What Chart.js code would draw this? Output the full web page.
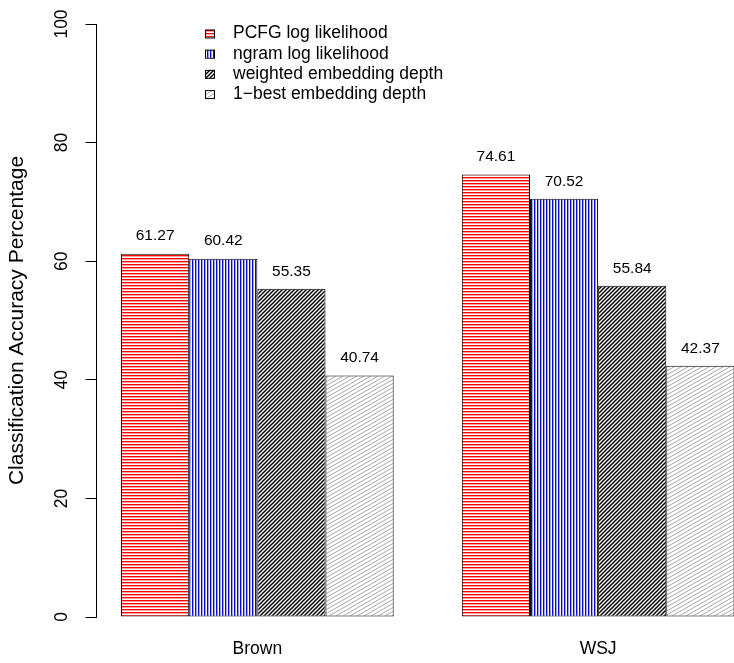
<!DOCTYPE html>
<html>
<head>
<meta charset="utf-8">
<script src="https://cdn.jsdelivr.net/npm/chart.js@4.4.1/dist/chart.umd.min.js"></script>
<style>
  html, body { margin: 0; padding: 0; background: #fff; overflow: hidden; }
  canvas { display: block; }
</style>
</head>
<body>
<canvas id="accChart" width="780" height="663"></canvas>
<script>
var categories = ['Brown', 'WSJ'];
var seriesNames = ['PCFG log likelihood', 'ngram log likelihood', 'weighted embedding depth', '1\u2212best embedding depth'];
var pcfgScores = [61.27, 74.61];
var ngramScores = [60.42, 70.52];
var weightedDepth = [55.35, 55.84];
var oneBestDepth = [40.74, 42.37];
var yTicks = [0, 20, 40, 60, 80, 100];

var FONT = "'Liberation Sans', Arial, Helvetica, sans-serif";

// barplot-style positions: each group of 4 bars has one bar width of space before it
var groupCenters = categories.map(function (c, i) { return 3 + i * 5; });

function hatch(w, h, draw) {
    var c = document.createElement('canvas');
    c.width = w;
    c.height = h;
    var g = c.getContext('2d');
    g.fillStyle = '#fff';
    g.fillRect(0, 0, w, h);
    draw(g, w, h);
    return document.getElementById('accChart').getContext('2d').createPattern(c, 'repeat');
}

function diagonal(color, width) {
    return function (g, w, h) {
        g.strokeStyle = color;
        g.lineWidth = width;
        [-h, 0, h].forEach(function (dy) {
            g.beginPath();
            g.moveTo(-w, 2 * h + dy);
            g.lineTo(2 * w, -h + dy);
            g.stroke();
        });
    };
}

var redLines = hatch(1, 3, function (g) {
    g.fillStyle = '#ff0000'; g.fillRect(0, 0, 1, 1);
    g.fillStyle = '#ffa0a0'; g.fillRect(0, 1, 1, 1);
});
var blueLines = hatch(3, 1, function (g) {
    g.fillStyle = '#0000ff'; g.fillRect(0, 0, 1, 1);
    g.fillStyle = '#a0a0ff'; g.fillRect(1, 0, 1, 1);
});
var blackHatch = hatch(4, 4, diagonal('#000', 1.5));
var greyHatch = hatch(7, 4, diagonal('#a8a8a8', 1));

function points(values) {
    return values.map(function (v, i) { return { x: groupCenters[i], y: v }; });
}

var valueLabels = {
    id: 'valueLabels',
    afterDatasetsDraw: function (chart) {
        var ctx = chart.ctx;
        ctx.save();
        ctx.font = '15.5px ' + FONT;
        ctx.fillStyle = '#000';
        ctx.textAlign = 'center';
        ctx.textBaseline = 'middle';
        chart.data.datasets.forEach(function (ds, di) {
            chart.getDatasetMeta(di).data.forEach(function (bar, i) {
                ctx.fillText(ds.data[i].y.toFixed(2), bar.x, bar.y - 17.5);
            });
        });
        ctx.restore();
    }
};

var rotatedYTicks = {
    id: 'rotatedYTicks',
    afterDraw: function (chart) {
        var ctx = chart.ctx;
        var y = chart.scales.y;
        ctx.save();
        ctx.font = '17.5px ' + FONT;
        ctx.fillStyle = '#000';
        ctx.textAlign = 'center';
        ctx.textBaseline = 'middle';
        y.ticks.forEach(function (t) {
            ctx.save();
            ctx.translate(62, y.getPixelForValue(t.value));
            ctx.rotate(-Math.PI / 2);
            ctx.fillText(String(t.value), 0, 0);
            ctx.restore();
        });
        ctx.restore();
    }
};

var boxLegend = {
    id: 'boxLegend',
    afterDraw: function (chart) {
        var ctx = chart.ctx;
        ctx.save();
        ctx.font = '17.5px ' + FONT;
        ctx.textBaseline = 'middle';
        chart.data.datasets.forEach(function (ds, i) {
            var cy = 33.5 + i * 20.2;
            ctx.fillStyle = ds.backgroundColor;
            ctx.fillRect(205, cy - 4, 10, 8);
            ctx.strokeStyle = '#000';
            ctx.lineWidth = 1;
            ctx.strokeRect(205.5, cy - 3.5, 9, 8);
            ctx.fillStyle = '#000';
            ctx.fillText(ds.label, 233, cy);
        });
        ctx.restore();
    }
};

var ctx = document.getElementById('accChart').getContext('2d');
var accChart = new Chart(ctx, {
    type: 'bar',
    data: {
        datasets: [
            { label: seriesNames[0], data: points(pcfgScores), backgroundColor: redLines },
            { label: seriesNames[1], data: points(ngramScores), backgroundColor: blueLines },
            { label: seriesNames[2], data: points(weightedDepth), backgroundColor: blackHatch },
            { label: seriesNames[3], data: points(oneBestDepth), backgroundColor: greyHatch }
        ]
    },
    options: {
        responsive: false,
        animation: false,
        devicePixelRatio: 1,
        layout: { padding: { top: 24, right: 21, bottom: 0, left: 0 } },
        datasets: {
            bar: {
                categoryPercentage: 0.8,
                barPercentage: 1,
                borderColor: '#000',
                borderWidth: 1,
                borderSkipped: false,
                inflateAmount: 0
            }
        },
        plugins: {
            legend: { display: false },
            tooltip: { enabled: false }
        },
        scales: {
            x: {
                type: 'linear',
                offset: false,
                min: 0.64,
                max: 10.36,
                afterBuildTicks: function (scale) {
                    scale.ticks = groupCenters.map(function (v) { return { value: v }; });
                },
                afterFit: function (scale) { scale.height = 46; },
                grid: { display: false, drawTicks: false, offset: false },
                border: { display: false },
                ticks: {
                    autoSkip: false,
                    maxRotation: 0,
                    padding: 22,
                    color: '#000',
                    font: { family: FONT, size: 17.5 },
                    callback: function (v) { return categories[groupCenters.indexOf(v)]; }
                }
            },
            y: {
                min: 0,
                max: 100,
                afterBuildTicks: function (scale) {
                    scale.ticks = yTicks.map(function (v) { return { value: v }; });
                },
                afterFit: function (scale) { scale.width = 96.5; },
                grid: { drawOnChartArea: false, drawTicks: true, tickLength: 11, color: '#000' },
                border: { display: true, color: '#000', width: 1 },
                ticks: { display: false },
                title: {
                    display: true,
                    text: 'Classification Accuracy Percentage',
                    color: '#000',
                    font: { family: FONT, size: 21 },
                    padding: { top: 5, bottom: 0 }
                }
            }
        }
    },
    plugins: [valueLabels, rotatedYTicks, boxLegend]
});
</script>
</body>
</html>
